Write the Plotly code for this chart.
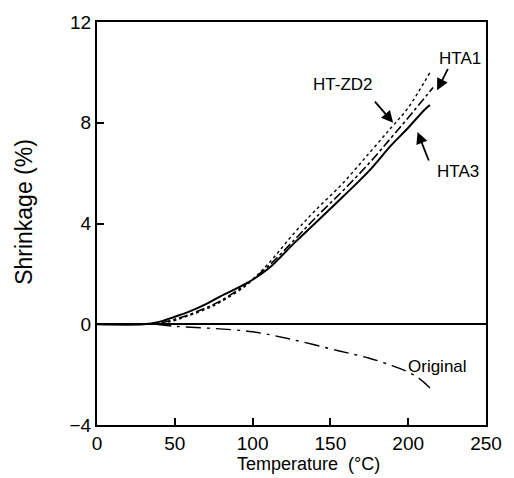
import plotly.graph_objects as go

# Data
t_hta3 = [0, 30, 39, 50, 58, 70, 79, 96, 110, 127, 140, 158, 175, 189, 200, 211, 214]
s_hta3 = [0, 0, 0.08, 0.3, 0.47, 0.8, 1.1, 1.62, 2.2, 3.24, 4.0, 5.06, 6.1, 7.1, 7.8, 8.55, 8.7]

t_hta1 = [30, 40, 50, 60, 70, 80, 96, 110, 127, 140, 158, 175, 189, 200, 216]
s_hta1 = [0, 0.05, 0.2, 0.4, 0.65, 0.95, 1.6, 2.3, 3.36, 4.2, 5.3, 6.4, 7.4, 8.2, 9.4]

t_zd2 = [30, 40, 50, 58, 70, 79, 96, 110, 127, 140, 158, 175, 189, 200, 214]
s_zd2 = [0, 0.03, 0.15, 0.32, 0.6, 0.87, 1.55, 2.4, 3.64, 4.5, 5.6, 6.8, 7.8, 8.6, 10.0]

t_orig = [38, 50, 70, 100, 125, 155, 175, 190, 200, 207, 214]
s_orig = [0, -0.08, -0.15, -0.3, -0.6, -1.05, -1.35, -1.65, -1.9, -2.15, -2.53]

x_ticks = [0, 50, 100, 150, 200, 250]
y_ticks = [-4, 0, 4, 8, 12]

fig = go.Figure()
fig.add_trace(go.Scatter(x=t_hta3, y=s_hta3, mode="lines", line=dict(color="black", width=2, shape="spline"), name="HTA3"))
fig.add_trace(go.Scatter(x=t_hta1, y=s_hta1, mode="lines", line=dict(color="black", width=1.6, dash="dashdot", shape="spline"), name="HTA1"))
fig.add_trace(go.Scatter(x=t_zd2, y=s_zd2, mode="lines", line=dict(color="black", width=1.4, dash="dot", shape="spline"), name="HT-ZD2"))
fig.add_trace(go.Scatter(x=t_orig, y=s_orig, mode="lines", line=dict(color="black", width=1.4, dash="longdashdot", shape="spline"), name="Original"))

fam = "Liberation Sans, Arial, sans-serif"
font = dict(family=fam, size=17, color="black")
tickfont = dict(family=fam, size=19, color="black")

annotations = [
    dict(x=158, y=9.5, text="HT-ZD2", showarrow=False, xref="x", yref="y", font=font),
    dict(x=233, y=10.55, text="HTA1", showarrow=False, xref="x", yref="y", font=font),
    dict(x=232, y=6.05, text="HTA3", showarrow=False, xref="x", yref="y", font=font),
    dict(x=219, y=-1.66, text="Original", showarrow=False, xref="x", yref="y", font=font),
    dict(x=190.3, y=8.0, ax=177.8, ay=8.9, axref="x", ayref="y", xref="x", yref="y", text="",
         showarrow=True, arrowhead=2, arrowsize=1.3, arrowwidth=1.8, arrowcolor="black"),
    dict(x=218.6, y=9.29, ax=226, ay=10.2, axref="x", ayref="y", xref="x", yref="y", text="",
         showarrow=True, arrowhead=2, arrowsize=1.3, arrowwidth=1.8, arrowcolor="black"),
    dict(x=206, y=7.63, ax=213.6, ay=6.44, axref="x", ayref="y", xref="x", yref="y", text="",
         showarrow=True, arrowhead=2, arrowsize=1.3, arrowwidth=1.8, arrowcolor="black"),
    # axis titles
    dict(x=0.543, y=-0.096, xref="paper", yref="paper", text="Temperature\u00a0 (°C)", showarrow=False,
         font=dict(family=fam, size=18, color="black"), xanchor="center", yanchor="middle"),
    dict(x=-0.186, y=0.528, xref="paper", yref="paper", text="Shrinkage (%)", showarrow=False, textangle=-90,
         font=dict(family=fam, size=23, color="black"), xanchor="center", yanchor="middle"),
]

fig.update_layout(
    width=514, height=478,
    margin=dict(l=97, r=18, t=20, b=53),
    plot_bgcolor="white", paper_bgcolor="white",
    showlegend=False,
    font=font,
    annotations=annotations,
    xaxis=dict(range=[0, 250], tickvals=x_ticks, ticks="inside", ticklen=7, tickwidth=2, tickcolor="black",
               showline=True, linecolor="black", linewidth=2, mirror=True, showgrid=False, zeroline=False,
               tickfont=tickfont),
    yaxis=dict(range=[-4, 12], tickvals=y_ticks, ticks="inside", ticklen=7, tickwidth=2, tickcolor="black",
               showline=True, linecolor="black", linewidth=2, mirror=True, showgrid=False,
               zeroline=True, zerolinecolor="black", zerolinewidth=2,
               tickfont=tickfont),
)

fig.write_html("out.html")
